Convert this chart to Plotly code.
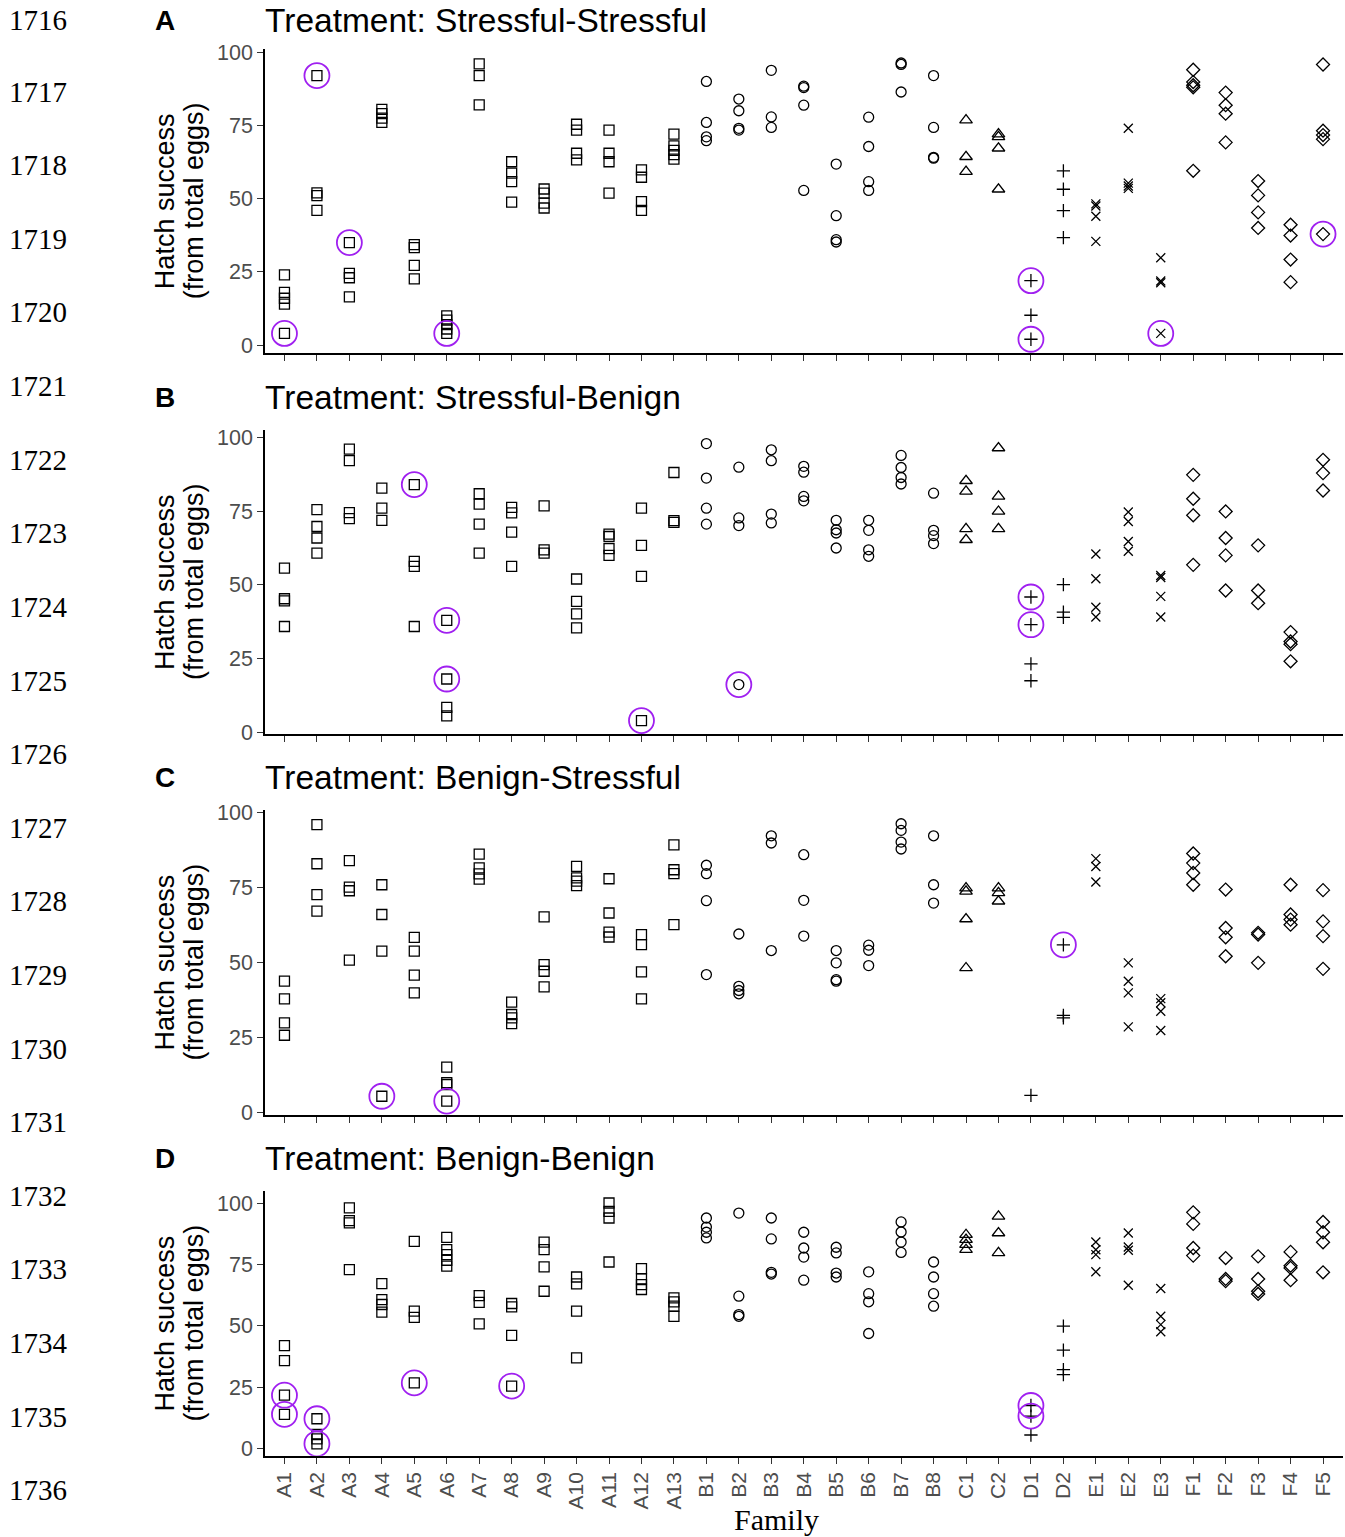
import plotly.graph_objects as go

W, H = 1345, 1537

families = ["A1", "A2", "A3", "A4", "A5", "A6", "A7", "A8", "A9", "A10", "A11", "A12", "A13",
            "B1", "B2", "B3", "B4", "B5", "B6", "B7", "B8", "C1", "C2", "D1", "D2",
            "E1", "E2", "E3", "F1", "F2", "F3", "F4", "F5"]

# Treatment: Stressful-Stressful
ss_values = [
    [24, 18, 16, 14, 4], [92, 52, 51, 46], [35, 24.5, 23, 16.5], [80.5, 79, 77.5, 76],
    [34.3, 33.3, 27.2, 22.6], [10, 8.5, 7, 5.5, 4], [96, 92, 82], [62.6, 58.7, 55.8, 48.8],
    [53.3, 51.9, 48.5, 46.8], [75.4, 73.4, 65.5, 63.2], [73.4, 65.5, 62.6, 51.9],
    [59.8, 57.3, 49, 46], [72, 68, 66.5, 65, 63.5],
    [90, 76, 71.1, 69.8], [84, 80, 74, 73.4], [93.8, 77.9, 74.3], [88.4, 87.9, 81.9, 52.8],
    [61.8, 44.2, 36, 35.2], [77.8, 67.8, 55.8, 52.8], [96.3, 95.8, 86.4], [92, 74.3, 64.1, 63.8],
    [76.8, 64.3, 59.2], [72, 71.1, 67.2, 53.2], [22, 10.2, 2], [59.5, 53.2, 45.9, 36.7],
    [48.2, 47.5, 44, 35.4], [74, 55.3, 54.3, 53.5], [29.8, 21.9, 21.3, 4],
    [94, 89.8, 88.7, 88, 59.5], [86.2, 81.9, 79, 69.2], [56, 51.1, 45.3, 40],
    [41.1, 37.4, 29.2, 21.5], [95.8, 73.2, 71.7, 70.3, 37.9],
]
ss_circled = [("A1", 4), ("A2", 92), ("A3", 35), ("A6", 4), ("D1", 22), ("D1", 2),
              ("E3", 4), ("F5", 37.9)]

# Treatment: Stressful-Benign
sb_values = [
    [55.7, 45.3, 44.6, 35.9], [75.5, 69.8, 65.9, 60.8], [96, 92.1, 74.5, 72.5], [82.8, 76, 71.9],
    [84, 58, 56.3, 35.9], [38, 18.1, 8.5, 5.6], [80.9, 77.4, 70.6, 60.8], [76.3, 74.4, 67.9, 56.3],
    [76.8, 61.9, 60.8], [52, 44.4, 40.2, 35.4], [67.2, 66.4, 62.3, 60],
    [76, 63.4, 52.9, 4], [88.1, 71.8, 71.2],
    [97.9, 86.2, 76, 70.6], [89.9, 72.7, 70.1, 16.2], [95.8, 92.1, 74, 71], [90.2, 88.2, 80, 78.5],
    [71.9, 68.7, 67.6, 62.5], [71.9, 68.5, 61.9, 59.7], [93.9, 89.8, 86.4, 84.2], [81.1, 68.5, 66.7, 64],
    [85.3, 81.7, 69, 65.3], [96.4, 80, 74.9, 69], [45.9, 36.5, 23.2, 17.5], [50.1, 40.8, 39],
    [60.5, 52.1, 42.4, 39.1], [74.7, 71.5, 64.7, 61.4], [53.2, 52.5, 46.1, 39.1],
    [87.3, 79.2, 73.6, 56.8], [74.9, 65.9, 60, 48.1], [63.4, 48.1, 43.8],
    [34, 30.8, 29.9, 24.1], [92.4, 87.9, 82],
]
sb_circled = [("A5", 84), ("A6", 38), ("A6", 18.1), ("A12", 4), ("B2", 16.2),
              ("D1", 45.9), ("D1", 36.5)]

# Treatment: Benign-Stressful
bs_values = [
    [43.8, 37.9, 29.9, 25.8], [95.9, 82.9, 72.6, 67.1], [83.9, 75.1, 73.9, 50.8], [75.9, 66, 53.8, 5.5],
    [58.4, 53.8, 45.8, 39.9], [15.2, 10, 9.4, 3.9], [86.1, 81.5, 79.5, 77.8], [36.8, 32.7, 31.6, 29.7],
    [65.2, 49.3, 47.1, 41.9], [82, 78.2, 77.1, 75.6], [77.9, 66.5, 60.1, 58.5],
    [59.3, 56, 46.9, 37.9], [89.2, 80.9, 79.6, 62.6],
    [82.4, 79.6, 70.6, 46], [59.5, 42.1, 40.7, 39.6], [92.2, 89.8, 54], [85.9, 70.7, 58.8],
    [54, 49.9, 44.3, 43.8], [55.8, 54.1, 49], [96.2, 94, 90.1, 87.8], [92.2, 75.9, 69.8],
    [74.8, 73.7, 64.5, 48.2], [74.8, 73.2, 70.4], [5.8], [55.9, 32.4, 31.6],
    [84.6, 82, 76.8], [49.9, 43.8, 39.9, 28.6], [38, 36.6, 33.8, 27.4],
    [86.3, 83.1, 79.8, 75.9], [74.3, 61.5, 58.4, 52.1], [59.9, 59.3, 49.9],
    [75.9, 66, 64.3, 62.6], [74.1, 63.7, 58.8, 47.9],
]
bs_circled = [("A4", 5.5), ("A6", 3.9), ("D2", 55.9)]

# Treatment: Benign-Benign
bb_values = [
    [42, 35.9, 21.8, 14], [12.2, 5.8, 4, 2], [98, 92.8, 91.9, 72.9], [67.2, 60.7, 58.7, 55.6],
    [84.4, 56, 53.5, 26.8], [86, 81, 79, 76.7, 74.3], [62.3, 59.6, 50.8], [59.1, 57.7, 46.1, 25.5],
    [84.1, 81, 74, 64.1], [69.9, 67.1, 56, 37], [100, 96.6, 93.9, 76],
    [73.3, 69.1, 66.8, 64.8], [61.4, 59.8, 58, 53.9],
    [93.9, 90.2, 88.1, 85.8], [95.9, 62.1, 54.6, 53.9], [93.9, 85.4, 71.8, 71.1], [88.1, 81.7, 78, 68.6],
    [82, 79.7, 71.5, 69.9], [72, 63.1, 59.8, 46.9], [92.3, 88.2, 84.1, 79.9], [76, 69.9, 63.1, 58],
    [87.1, 85.1, 83.1, 81], [94.6, 87.8, 79.7], [17.6, 13.3, 5.6], [49.9, 40.1, 32.2, 30.2],
    [84.1, 81, 79, 72], [87.8, 82.1, 80.8, 66.5], [65.2, 53.9, 50.5, 47.6],
    [96.2, 91.5, 81.7, 78.6], [77.6, 69.1, 68.2], [78.3, 69.1, 64.1, 63],
    [80.1, 74.5, 73.6, 68.6], [92.3, 88.1, 84, 71.8],
]
bb_circled = [("A1", 21.8), ("A1", 14), ("A2", 12.2), ("A2", 2), ("A5", 26.8),
              ("A8", 25.5), ("D1", 17.6), ("D1", 13.3)]

panel_letters = ["A", "B", "C", "D"]
panel_titles = ["Treatment: Stressful-Stressful", "Treatment: Stressful-Benign",
                "Treatment: Benign-Stressful", "Treatment: Benign-Benign"]
y_ticks = [0, 25, 50, 75, 100]
line_numbers = list(range(1716, 1737))

symbols = {"A": ("square-open", 10), "B": ("circle-open", 10), "C": ("triangle-up-open", 11),
           "D": ("cross-thin-open", 9.5), "E": ("x-thin-open", 9), "F": ("diamond-open", 10)}

panels = [(ss_values, ss_circled), (sb_values, sb_circled),
          (bs_values, bs_circled), (bb_values, bb_circled)]
# panel plot-area top/bottom in target pixel rows
dom_px = [(49.3, 353.3), (430.0, 734.8), (810.3, 1115.4), (1191.5, 1456.5)]

# observed vertical placement of the captured page: shown_y = 9.1 + 0.988 * page_y
VA, VB = 9.1, 0.988


def px_x(x):
    return x / W


def px_y(y, min_page=0.0):
    page = max((y - VA) / VB, min_page)
    return 1 - page / H


fig = go.Figure()
layout = {}
annotations = []
xdom = [px_x(265), px_x(1342.5)]
sans = "Liberation Sans, Arial, sans-serif"
serif = "Liberation Serif, Times New Roman, serif"

for i, (vals, circ) in enumerate(panels):
    ax = "" if i == 0 else str(i + 1)
    xa, ya = "x" + ax, "y" + ax
    for g, (sym, sz) in symbols.items():
        xs, ys = [], []
        for fam, vlist in zip(families, vals):
            if fam[0] == g:
                for v in vlist:
                    xs.append(fam)
                    ys.append(v)
        fig.add_trace(go.Scatter(x=xs, y=ys, mode="markers", xaxis=xa, yaxis=ya, showlegend=False,
                                 marker=dict(symbol=sym, size=sz, color="black",
                                             line=dict(color="black", width=1.3))))
    fig.add_trace(go.Scatter(x=[c[0] for c in circ], y=[c[1] for c in circ], mode="markers",
                             xaxis=xa, yaxis=ya, showlegend=False,
                             marker=dict(symbol="circle-open", size=25, color="#A020F0",
                                         line=dict(color="#A020F0", width=1.8))))
    allv = [v for vl in vals for v in vl]
    lo, hi = min(allv), max(allv)
    pad = 0.05 * (hi - lo)
    top, bot = dom_px[i]
    layout["xaxis" + ax] = dict(
        domain=xdom, anchor=ya, type="category", categoryorder="array", categoryarray=families,
        range=[-0.6, len(families) - 0.4], showline=True, linecolor="black", linewidth=1.6,
        ticks="outside", ticklen=6, tickwidth=1.3, tickcolor="#333333",
        showticklabels=(i == 3), tickangle=-90,
        tickfont=dict(family=sans, size=21, color="#4D4D4D"),
        showgrid=False, zeroline=False)
    layout["yaxis" + ax] = dict(
        domain=[px_y(bot), px_y(top)], anchor=xa, range=[lo - pad, hi + pad], tickvals=y_ticks,
        showline=True, linecolor="black", linewidth=1.6,
        ticks="outside", ticklen=6, tickwidth=1.3, tickcolor="#333333",
        tickfont=dict(family=sans, size=21.5, color="#4D4D4D"),
        showgrid=False, zeroline=False)
    # panel letter and title
    ty = top - 32
    annotations.append(dict(text="<b>" + panel_letters[i] + "</b>", x=px_x(165), y=px_y(ty, 12),
                            xref="paper", yref="paper", showarrow=False, xanchor="center",
                            yanchor="middle", font=dict(family=sans, size=28, color="black")))
    annotations.append(dict(text=panel_titles[i], x=px_x(263), y=px_y(ty, 12),
                            xref="paper", yref="paper", showarrow=False, xanchor="left",
                            yanchor="middle", font=dict(family=sans, size=33.5, color="black")))
    cy = (top + bot) / 2
    annotations.append(dict(text="Hatch success", x=px_x(165), y=px_y(cy),
                            xref="paper", yref="paper", showarrow=False, textangle=-90,
                            xanchor="center", yanchor="middle",
                            font=dict(family=sans, size=27, color="black")))
    annotations.append(dict(text="(from total eggs)", x=px_x(194), y=px_y(cy),
                            xref="paper", yref="paper", showarrow=False, textangle=-90,
                            xanchor="center", yanchor="middle",
                            font=dict(family=sans, size=27, color="black")))

annotations.append(dict(text="Family", x=px_x(776), y=px_y(1520), xref="paper", yref="paper",
                        showarrow=False, xanchor="center", yanchor="middle",
                        font=dict(family=serif, size=30, color="black")))
for k, n in enumerate(line_numbers):
    py = 18 + k * 73.65
    annotations.append(dict(text=str(n), x=px_x(7), y=px_y(py, 11), xref="paper", yref="paper",
                            showarrow=False, xanchor="left", yanchor="middle",
                            font=dict(family=serif, size=29, color="black")))

fig.update_layout(width=W, height=H, margin=dict(l=0, r=0, t=0, b=0),
                  plot_bgcolor="white", paper_bgcolor="white",
                  annotations=annotations, **layout)

page_fix = ("document.documentElement.style.margin='0';document.documentElement.style.padding='0';"
            "document.body.style.margin='0';document.body.style.padding='0';"
            "document.documentElement.style.overflow='hidden';document.body.style.overflow='hidden';")
fig.write_html("out.html", post_script=page_fix, config={"displayModeBar": False})
